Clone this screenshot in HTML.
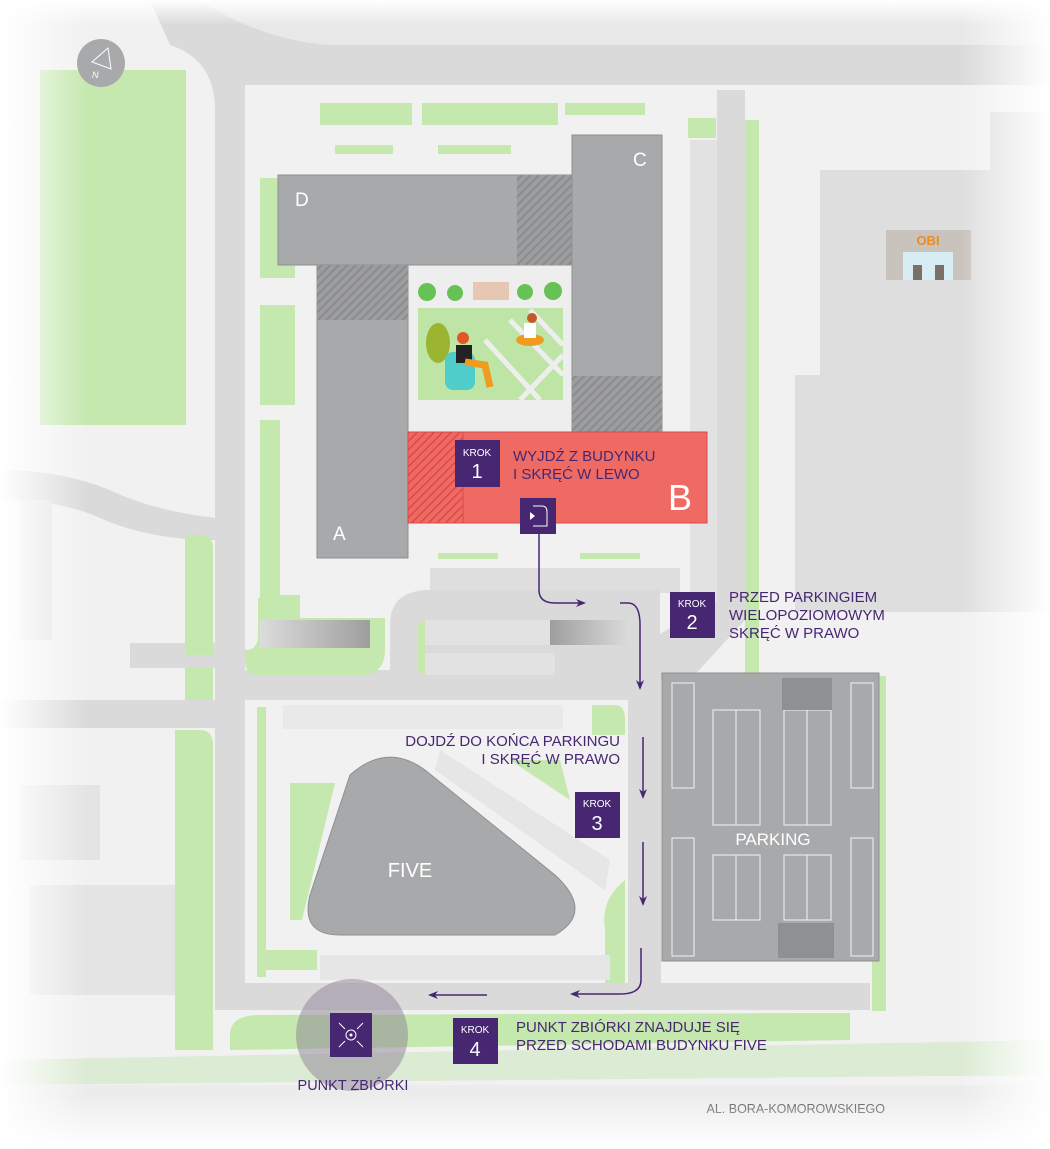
<!DOCTYPE html>
<html><head><meta charset="utf-8"><style>
html,body{margin:0;padding:0;background:#fff}
svg{display:block}
text{font-family:"Liberation Sans",sans-serif}
</style></head><body>
<svg width="1050" height="1149" viewBox="0 0 1050 1149" xmlns="http://www.w3.org/2000/svg">
<defs>
<pattern id="h" width="6" height="6" patternUnits="userSpaceOnUse" patternTransform="rotate(45)">
<rect width="6" height="6" fill="#9c9d9f"/><rect width="2" height="6" fill="#8a8b8d"/></pattern>
<pattern id="hr" width="6" height="6" patternUnits="userSpaceOnUse" patternTransform="rotate(45)">
<rect width="6" height="6" fill="#f06a64"/><rect width="1.5" height="6" fill="#d94a48"/></pattern>
<linearGradient id="fl" x1="0" x2="1"><stop offset="0" stop-color="#fff"/><stop offset="0.8" stop-color="#fff" stop-opacity="0"/></linearGradient>
<linearGradient id="fr" x1="1" x2="0"><stop offset="0" stop-color="#fff"/><stop offset="1" stop-color="#fff" stop-opacity="0"/></linearGradient>
<linearGradient id="fb" x1="0" y1="1" x2="0" y2="0"><stop offset="0" stop-color="#fff"/><stop offset="1" stop-color="#fff" stop-opacity="0"/></linearGradient>
<linearGradient id="ft" x1="0" y1="0" x2="0" y2="1"><stop offset="0" stop-color="#fff"/><stop offset="1" stop-color="#fff" stop-opacity="0"/></linearGradient>
<linearGradient id="ramp" x1="0" x2="1"><stop offset="0" stop-color="#dcdcdc"/><stop offset="1" stop-color="#9e9e9e"/></linearGradient>
<linearGradient id="ramp2" x1="1" x2="0"><stop offset="0" stop-color="#dcdcdc"/><stop offset="1" stop-color="#9e9e9e"/></linearGradient>
<marker id="ar" markerWidth="10" markerHeight="8" refX="8" refY="4" orient="auto" markerUnits="userSpaceOnUse"><path d="M0,0 L10,4 L0,8 L3,4Z" fill="#472672"/></marker>
</defs>
<rect width="1050" height="1149" fill="#f1f1f1"/>
<rect x="40" y="70" width="146" height="355" fill="#c4e8ae"/>
<path d="M150,0 L1050,0 L1050,85 L245,85 L245,1010 L215,1010 L215,110 Q215,60 170,45 Z" fill="#dadada"/>
<path d="M200,0 Q260,40 330,45 L1050,45 L1050,0Z" fill="#e8e8e8"/>
<path d="M0,470 Q60,470 110,490 Q150,510 215,518 L215,540 Q150,540 100,518 Q60,500 0,500Z" fill="#dadada"/>
<rect x="0" y="700" width="215" height="28" fill="#dadada"/>
<rect x="130" y="643" width="90" height="25" fill="#dadada"/>
<rect x="20" y="500" width="32" height="140" fill="#e4e4e4"/>
<rect x="20" y="785" width="80" height="75" fill="#e4e4e4"/>
<rect x="30" y="885" width="145" height="110" fill="#e4e4e4"/>
<path d="M185,535 L200,535 Q213,535 213,548 L213,655 L185,655Z" fill="#c4e8ae"/>
<rect x="185" y="668" width="28" height="32" fill="#c4e8ae"/>
<path d="M175,730 L200,730 Q213,730 213,745 L213,1050 L175,1050Z" fill="#c4e8ae"/>
<rect x="717" y="90" width="28" height="520" fill="#dadada"/>
<path d="M717,600 L745,600 L745,620 L690,680 L650,680 L650,640Z" fill="#dadada"/>
<rect x="745" y="120" width="14" height="570" fill="#c4e8ae"/>
<rect x="745" y="676" width="130" height="14" fill="#c4e8ae"/>
<rect x="872" y="676" width="14" height="335" fill="#c4e8ae"/>
<rect x="690" y="140" width="27" height="460" fill="#e2e2e2"/>
<rect x="688" y="118" width="28" height="20" fill="#c4e8ae"/>
<path d="M990,112 L1050,112 L1050,612 L795,612 L795,375 L820,375 L820,170 L990,170Z" fill="#dedede"/>
<rect x="886" y="230" width="85" height="50" fill="#c9c3bd"/>
<text x="928" y="245" font-size="13" font-weight="bold" fill="#f08a1c" text-anchor="middle" font-family="Liberation Serif,serif">OBI</text>
<rect x="903" y="252" width="50" height="28" fill="#d8ecf4"/>
<rect x="913" y="265" width="9" height="15" fill="#7b6f67"/><rect x="935" y="265" width="9" height="15" fill="#7b6f67"/>
<rect x="320" y="103" width="92" height="22" fill="#c4e8ae"/>
<rect x="422" y="103" width="136" height="22" fill="#c4e8ae"/>
<rect x="565" y="103" width="80" height="12" fill="#c4e8ae"/>
<rect x="335" y="145" width="58" height="9" fill="#c4e8ae"/>
<rect x="438" y="145" width="73" height="9" fill="#c4e8ae"/>
<rect x="260" y="178" width="35" height="100" fill="#c4e8ae"/>
<rect x="260" y="305" width="35" height="100" fill="#c4e8ae"/>
<rect x="260" y="420" width="40" height="195" fill="#c4e8ae"/>
<rect x="280" y="420" width="37" height="175" fill="#f1f1f1"/>
<rect x="438" y="553" width="60" height="6" fill="#c4e8ae"/>
<rect x="580" y="553" width="60" height="6" fill="#c4e8ae"/>
<rect x="408" y="265" width="164" height="167" fill="#eeeeee"/>
<rect x="418" y="308" width="145" height="92" fill="#bfe5a6"/>
<path d="M510,320 L563,375 M530,310 L563,345 M485,340 L540,400 M520,400 L563,355" stroke="#eeeeee" stroke-width="5"/>
<circle cx="427" cy="292" r="9" fill="#67c255"/><circle cx="455" cy="293" r="8" fill="#67c255"/>
<rect x="473" y="282" width="36" height="18" fill="#e6c7b4"/>
<circle cx="525" cy="292" r="8" fill="#67c255"/><circle cx="553" cy="291" r="9" fill="#67c255"/>
<ellipse cx="438" cy="343" rx="12" ry="20" fill="#9bb531"/>
<rect x="445" y="352" width="30" height="38" rx="8" fill="#4fcdcb"/>
<circle cx="463" cy="338" r="6" fill="#e0562a"/>
<rect x="456" y="345" width="16" height="18" fill="#222"/>
<path d="M465,362 L485,365 L490,387" stroke="#f09a1f" stroke-width="7" fill="none"/>
<ellipse cx="530" cy="340" rx="14" ry="6" fill="#f09a1f"/>
<rect x="524" y="323" width="12" height="15" fill="#fff"/>
<circle cx="532" cy="318" r="5" fill="#c45a2a"/>
<rect x="278" y="175" width="294" height="90" fill="#a8a9ab" stroke="#8e8f91"/>
<rect x="517" y="175" width="55" height="90" fill="url(#h)"/>
<rect x="572" y="135" width="90" height="297" fill="#a8a9ab" stroke="#8e8f91"/>
<rect x="572" y="376" width="90" height="56" fill="url(#h)"/>
<rect x="317" y="265" width="91" height="293" fill="#a8a9ab" stroke="#8e8f91"/>
<rect x="317" y="265" width="91" height="55" fill="url(#h)"/>
<text x="295" y="206" font-size="19" fill="#fff">D</text>
<text x="633" y="166" font-size="19" fill="#fff">C</text>
<text x="333" y="540" font-size="19" fill="#fff">A</text>
<rect x="408" y="432" width="299" height="91" fill="#f06a64" stroke="#d94a48"/>
<rect x="408" y="432" width="55" height="91" fill="url(#hr)" stroke="#d94a48"/>
<text x="668" y="510" font-size="36" fill="#fff">B</text>
<rect x="455" y="440" width="45" height="47" fill="#472672"/>
<text x="477" y="456" font-size="10" fill="#fff" text-anchor="middle">KROK</text>
<text x="477" y="478" font-size="20" fill="#fff" text-anchor="middle">1</text>
<text x="513" y="461" font-size="15" fill="#472672">WYJDŹ Z BUDYNKU</text>
<text x="513" y="479" font-size="15" fill="#472672">I SKRĘĆ W LEWO</text>
<rect x="520" y="498" width="36" height="36" fill="#472672"/>
<path d="M533,506 L542,506 Q547,506 547,512 L547,526 L533,526" stroke="#fff" fill="none" stroke-width="1"/>
<path d="M530,512 L535,516 L530,520Z" fill="#fff"/>
<rect x="430" y="568" width="250" height="25" fill="#dedede"/>
<path d="M243,670 L660,670 L660,700 L243,700Z" fill="#dadada"/>
<path d="M390,670 L390,625 Q390,590 430,590 L660,590 L660,680 L390,680Z" fill="#dadada"/>
<path d="M258,598 L300,598 L300,618 L385,618 L385,650 Q385,675 360,675 L258,675 Q245,675 245,660 L245,650 Q258,650 258,635Z" fill="#c4e8ae"/>
<rect x="260" y="620" width="110" height="28" fill="url(#ramp)"/>
<rect x="425" y="620" width="125" height="25" fill="#e2e2e2"/>
<rect x="550" y="620" width="80" height="25" fill="url(#ramp2)"/>
<rect x="425" y="653" width="130" height="22" fill="#e2e2e2"/>
<path d="M418,625 L425,620 L425,675 L418,670Z" fill="#c4e8ae"/>
<rect x="245" y="703" width="383" height="280" rx="12" fill="#f1f1f1"/>
<rect x="257" y="707" width="9" height="270" fill="#c4e8ae"/>
<rect x="257" y="950" width="60" height="20" fill="#c4e8ae"/>
<rect x="283" y="705" width="280" height="24" fill="#e9e9e9"/>
<path d="M592,705 L615,705 Q625,705 625,720 L625,985 L605,985 L605,930 Q600,900 625,880 L625,735 L592,735Z" fill="#c4e8ae"/>
<path d="M510,760 L560,760 L570,800 Z" fill="#c4e8ae"/>
<path d="M290,783 L335,783 L302,920 L290,920Z" fill="#c4e8ae"/>
<path d="M440,750 L610,860 L605,890 L435,770Z" fill="#e6e6e6"/>
<rect x="320" y="955" width="290" height="25" fill="#e6e6e6"/>
<path d="M350,775 Q387,742 425,770 L555,875 Q595,912 555,935 L340,935 Q300,935 310,895 Z" fill="#a8a9ab" stroke="#8e8f91"/>
<text x="410" y="877" font-size="20" fill="#fff" text-anchor="middle">FIVE</text>
<rect x="628" y="680" width="33" height="330" fill="#dadada"/>
<rect x="215" y="983" width="655" height="27" fill="#dadada"/>
<rect x="662" y="673" width="217" height="288" fill="#a8a9ab" stroke="#8f9092"/>
<g stroke="#f2f2f2" stroke-width="1" fill="none">
<rect x="672" y="683" width="22" height="105"/><rect x="672" y="838" width="22" height="118"/>
<rect x="851" y="683" width="22" height="105"/><rect x="851" y="838" width="22" height="118"/>
<rect x="713" y="710" width="47" height="115"/><line x1="736" y1="710" x2="736" y2="825"/>
<rect x="784" y="710" width="47" height="115"/><line x1="807" y1="710" x2="807" y2="825"/>
<rect x="713" y="855" width="47" height="65"/><line x1="736" y1="855" x2="736" y2="920"/>
<rect x="784" y="855" width="47" height="65"/><line x1="807" y1="855" x2="807" y2="920"/>
</g>
<rect x="782" y="678" width="50" height="32" fill="#8f9092"/>
<rect x="778" y="923" width="56" height="35" fill="#8f9092"/>
<text x="773" y="845" font-size="17" fill="#fff" text-anchor="middle">PARKING</text>
<rect x="670" y="592" width="45" height="46" fill="#472672"/>
<text x="692" y="607" font-size="10" fill="#fff" text-anchor="middle">KROK</text>
<text x="692" y="629" font-size="20" fill="#fff" text-anchor="middle">2</text>
<text x="729" y="602" font-size="15" fill="#472672">PRZED PARKINGIEM</text>
<text x="729" y="620" font-size="15" fill="#472672">WIELOPOZIOMOWYM</text>
<text x="729" y="638" font-size="15" fill="#472672">SKRĘĆ W PRAWO</text>
<text x="620" y="746" font-size="15" fill="#472672" text-anchor="end">DOJDŹ DO KOŃCA PARKINGU</text>
<text x="620" y="764" font-size="15" fill="#472672" text-anchor="end">I SKRĘĆ W PRAWO</text>
<rect x="575" y="792" width="45" height="46" fill="#472672"/>
<text x="597" y="807" font-size="10" fill="#fff" text-anchor="middle">KROK</text>
<text x="597" y="830" font-size="20" fill="#fff" text-anchor="middle">3</text>
<g stroke="#472672" stroke-width="1.5" fill="none" marker-end="url(#ar)">
<path d="M539,534 L539,590 Q539,603 555,603 L584,603"/>
<path d="M620,603 L628,603 Q640,603 640,625 L640,688"/>
<path d="M643,737 L643,797"/>
<path d="M643,842 L643,904"/>
<path d="M641,948 L641,980 Q641,994 620,994 L572,994"/>
<path d="M487,995 L430,995"/>
</g>
<path d="M230,1035 Q230,1015 260,1015 L850,1013 L850,1040 L230,1050Z" fill="#c4e8ae"/>
<path d="M0,1060 L1050,1040 L1050,1075 L0,1085Z" fill="#dcebd4"/>
<rect x="0" y="1085" width="1050" height="64" fill="#ececec"/>
<ellipse cx="352" cy="1035" rx="56" ry="56" fill="#8c8293" opacity="0.5"/>
<rect x="330" y="1013" width="42" height="44" fill="#472672"/>
<g stroke="#fff" stroke-width="1" fill="none"><circle cx="351" cy="1035" r="5"/>
<path d="M339,1023 L345,1029 M363,1023 L357,1029 M339,1047 L345,1041 M363,1047 L357,1041"/></g>
<circle cx="351" cy="1035" r="1.5" fill="#fff"/>
<text x="353" y="1090" font-size="14.5" fill="#472672" text-anchor="middle">PUNKT ZBIÓRKI</text>
<rect x="453" y="1018" width="45" height="46" fill="#472672"/>
<text x="475" y="1033" font-size="10" fill="#fff" text-anchor="middle">KROK</text>
<text x="475" y="1056" font-size="20" fill="#fff" text-anchor="middle">4</text>
<text x="516" y="1032" font-size="15" fill="#472672">PUNKT ZBIÓRKI ZNAJDUJE SIĘ</text>
<text x="516" y="1050" font-size="15" fill="#472672">PRZED SCHODAMI BUDYNKU FIVE</text>
<text x="885" y="1113" font-size="12.5" fill="#555" text-anchor="end">AL. BORA-KOMOROWSKIEGO</text>
<rect x="0" y="0" width="110" height="1149" fill="url(#fl)"/>
<rect x="960" y="0" width="90" height="1149" fill="url(#fr)"/>
<rect x="0" y="1095" width="1050" height="54" fill="url(#fb)"/>
<rect x="0" y="0" width="1050" height="25" fill="url(#ft)"/>
<circle cx="101" cy="63" r="24" fill="#a8a9ab"/>
<path d="M108,48 L92,62 L111,69Z" stroke="#fff" fill="none" stroke-width="1"/>
<text x="92" y="78" font-size="9" fill="#fff" font-style="italic">N</text>
</svg>
</body></html>
